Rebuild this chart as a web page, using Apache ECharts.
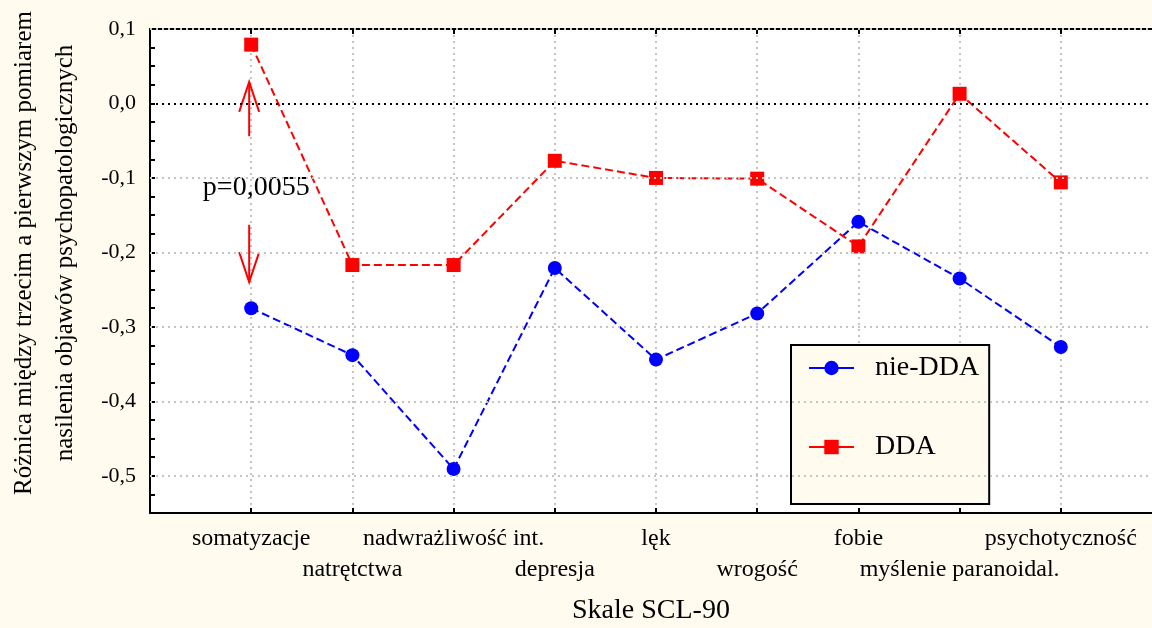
<!DOCTYPE html>
<html>
<head>
<meta charset="utf-8">
<script src="https://cdn.jsdelivr.net/npm/echarts@6/dist/echarts.min.js"></script>
<style>
  html, body { margin: 0; padding: 0; background: #FFFCEF; }
  #chart { width: 1152px; height: 628px; }
</style>
</head>
<body>
<div id="chart"></div>
<script>
// SCL-90 scales (x positions 1..9)
const categories = ['somatyzacje', 'natrętctwa', 'nadwrażliwość int.', 'depresja', 'lęk',
                    'wrogość', 'fobie', 'myślenie paranoidal.', 'psychotyczność'];
// change between third and first measurement
const nieDDA = [-0.275, -0.338, -0.491, -0.221, -0.344, -0.282, -0.159, -0.235, -0.327];
const DDA    = [0.079, -0.217, -0.217, -0.077, -0.100, -0.101, -0.192, 0.013, -0.106];
// horizontal grid levels (zero drawn separately)
const yGridValues = [0.1, -0.1, -0.2, -0.3, -0.4, -0.5];
const zeroLevel = 0;
// significance annotation: arrows [x, from, to] and label
const arrows = [[0.98, -0.044, 0.029], [0.98, -0.163, -0.240]];
const pLabel = { x: 1.05, y: -0.113, text: 'p=0,0055' };

const FONT = 'Liberation Serif';
const chart = echarts.init(document.getElementById('chart'));

const toPoints = vals => vals.map((v, i) => [i + 1, v]);

chart.setOption({
  animation: false,
  backgroundColor: '#FFFCEF',
  textStyle: { fontFamily: FONT },
  grid: {
    left: 150, top: 29, width: 1012, height: 484,
    outerBoundsMode: 'none', containLabel: false,
    show: true, backgroundColor: '#FFFFFF', borderWidth: 0
  },
  xAxis: [{
    type: 'value', position: 'bottom', min: 0, max: 10, interval: 1,
    axisLine: { show: true, onZero: false, lineStyle: { color: '#000', width: 2 } },
    axisTick: { show: true, inside: true, length: 5, lineStyle: { color: '#000', width: 2 } },
    splitLine: { show: true, lineStyle: { color: '#C4C4C4', width: 2, type: [2, 4] } },
    axisLabel: {
      margin: 10, fontFamily: FONT, fontSize: 24, color: '#000', lineHeight: 31,
      formatter: v => {
        const i = Math.round(v) - 1;
        if (i < 0 || i >= categories.length) return '';
        return i % 2 === 0 ? categories[i] : '\n' + categories[i];
      }
    }
  }, {
    type: 'value', position: 'top', min: 0, max: 10, interval: 1,
    axisLine: { show: true, onZero: false, lineStyle: { color: '#000', width: 2 } },
    axisTick: { show: true, inside: true, length: 5, lineStyle: { color: '#000', width: 2 } },
    axisLabel: { show: false },
    splitLine: { show: false }
  }],
  yAxis: {
    type: 'value', min: -0.55, max: 0.1, interval: 0.025,
    axisLine: { show: true, onZero: false, lineStyle: { color: '#000', width: 2 } },
    axisTick: { show: true, inside: true, length: 5, lineStyle: { color: '#000', width: 2 } },
    splitLine: { show: false },
    axisLabel: {
      margin: 14, fontFamily: FONT, fontSize: 22, color: '#000',
      formatter: v => (Math.round(v * 1000) % 100 === 0) ? v.toFixed(1).replace('.', ',') : ''
    }
  },
  legend: {
    data: ['nie-DDA', 'DDA'],
    orient: 'vertical', left: 791, top: 345,
    padding: [9, 10, 43, 17], itemGap: 51,
    itemWidth: 45, itemHeight: 18,
    backgroundColor: '#FFFCEF', borderColor: '#000', borderWidth: 2,
    lineStyle: { type: 'solid', width: 2 },
    textStyle: { fontFamily: FONT, fontSize: 28, color: '#000', padding: [0, 0, 0, 16] }
  },
  graphic: [{
    type: 'text', left: 572, top: 597,
    style: { text: 'Skale SCL-90', font: '28px "Liberation Serif"', fill: '#000' }
  }, {
    type: 'text', x: 45, y: 253, rotation: Math.PI / 2,
    style: {
      text: 'Różnica między trzecim a pierwszym pomiarem\nnasilenia objawów psychopatologicznych',
      font: '25px "Liberation Serif"', fill: '#000', lineHeight: 41,
      align: 'center', verticalAlign: 'middle'
    }
  }],
  series: [{
    name: 'grid', type: 'line', data: [], silent: true, z: 1,
    markLine: {
      silent: true, symbol: ['none', 'none'], label: { show: false },
      emphasis: { disabled: true },
      data: yGridValues.map(v => ({ yAxis: v, lineStyle: { color: '#C4C4C4', width: 2, type: [2, 4] } }))
        .concat([{ yAxis: zeroLevel, lineStyle: { color: '#000', width: 2, type: [2, 4] } }])
    }
  }, {
    name: 'nie-DDA', type: 'line', data: toPoints(nieDDA), z: 3,
    symbol: 'circle', symbolSize: 14,
    itemStyle: { color: '#0000FF' },
    lineStyle: { color: '#0000FF', width: 2, type: [8, 4] }
  }, {
    name: 'DDA', type: 'line', data: toPoints(DDA), z: 3,
    symbol: 'rect', symbolSize: 14,
    itemStyle: { color: '#FF0000' },
    lineStyle: { color: '#FF0000', width: 2, type: [8, 4] }
  }, {
    name: 'annot', type: 'custom', z: 4, silent: true,
    data: arrows,
    renderItem: (params, api) => {
      const x = api.value(0);
      const from = api.coord([x, api.value(1)]);
      const to = api.coord([x, api.value(2)]);
      const dir = to[1] < from[1] ? 1 : -1;
      const headLen = 30, halfW = 10;
      const children = [{
        type: 'polyline', shape: { points: [from, to] },
        style: { stroke: '#FF0000', lineWidth: 2, fill: null }
      }, {
        type: 'polyline',
        shape: { points: [[to[0] - halfW, to[1] + dir * headLen], to, [to[0] + halfW, to[1] + dir * headLen]] },
        style: { stroke: '#FF0000', lineWidth: 2, fill: null }
      }];
      if (params.dataIndex === 0) {
        const p = api.coord([pLabel.x, pLabel.y]);
        children.push({
          type: 'text', x: p[0], y: p[1],
          style: { text: pLabel.text, font: '28px "Liberation Serif"', fill: '#000',
                   align: 'center', verticalAlign: 'middle' }
        });
      }
      return { type: 'group', children };
    }
  }]
});
</script>
</body>
</html>
